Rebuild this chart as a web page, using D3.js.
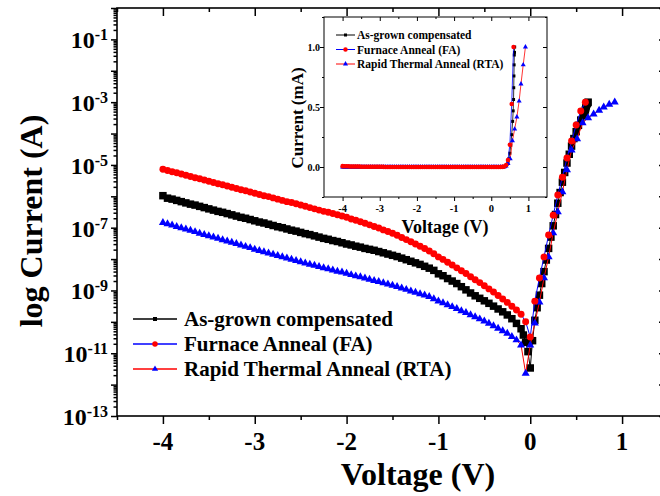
<!DOCTYPE html>
<meta charset="utf-8">
<script src="https://cdn.jsdelivr.net/npm/d3@7/dist/d3.min.js"></script>
<style>
body { margin: 0; background: #fff; }
text { font-family: "Liberation Serif", "Times New Roman", serif; font-weight: bold; fill: #000; }
.axis path { display: none; }
.axis line { stroke: #000; stroke-width: 1.5px; }
.inset .axis line { stroke-width: 1px; }
</style>
<body>
<script>

// reverse sweep voltages shared by all three samples (V)
var vReverse = [
  -4.00,-3.95,-3.90,-3.85,-3.80,-3.75,-3.70,-3.65,-3.60,-3.55,
  -3.50,-3.45,-3.40,-3.35,-3.30,-3.25,-3.20,-3.15,-3.10,-3.05,
  -3.00,-2.95,-2.90,-2.85,-2.80,-2.75,-2.70,-2.65,-2.60,-2.55,
  -2.50,-2.45,-2.40,-2.35,-2.30,-2.25,-2.20,-2.15,-2.10,-2.05,
  -2.00,-1.95,-1.90,-1.85,-1.80,-1.75,-1.70,-1.65,-1.60,-1.55,
  -1.50,-1.45,-1.40,-1.35,-1.30,-1.25,-1.20,-1.15,-1.10,-1.05,
  -1.00,-0.95,-0.90,-0.85,-0.80,-0.75,-0.70,-0.65,-0.60,-0.55,
  -0.50,-0.45,-0.40,-0.35,-0.30,-0.25,-0.20,-0.15,-0.10
];

// rest of each sweep (V)
var blackTailV = [-0.075,-0.05,-0.025,0,0.025,0.05,0.075,0.10,0.125,0.15,0.175,0.20,0.225,0.25,
  0.275,0.30,0.325,0.35,0.375,0.40,0.425,0.45,0.475,0.50,0.525,0.55,0.575,0.59,0.60,0.605,
  0.61,0.615,0.62,0.625,0.63];
var faTailV = [-0.05,0,0.05,0.10,0.15,0.20,0.25,0.30,0.35,0.40,0.45,0.50,0.55,0.60];
var rtaTailV = [-0.05,0,0.05,0.10,0.15,0.20,0.25,0.30,0.35,0.40,0.45,0.51,0.57,0.63,0.69,0.75,0.80,0.86,0.92];

// log10 of current (A)
var blackLogI = [
  -5.98,-6.06,-6.09,-6.13,-6.17,-6.21,-6.25,-6.28,-6.32,-6.36,
  -6.40,-6.44,-6.48,-6.51,-6.55,-6.59,-6.63,-6.67,-6.70,-6.74,
  -6.78,-6.82,-6.85,-6.89,-6.93,-6.97,-7.00,-7.04,-7.08,-7.11,
  -7.15,-7.19,-7.22,-7.26,-7.30,-7.34,-7.37,-7.41,-7.44,-7.48,
  -7.52,-7.55,-7.59,-7.62,-7.66,-7.69,-7.72,-7.76,-7.80,-7.84,
  -7.88,-7.92,-7.97,-8.02,-8.07,-8.12,-8.17,-8.23,-8.29,-8.36,
  -8.47,-8.53,-8.62,-8.70,-8.78,-8.88,-8.98,-9.08,-9.17,-9.25,
  -9.33,-9.41,-9.50,-9.59,-9.68,-9.78,-9.90,-10.05,-10.22,
  -10.42,-10.65,-10.95,-11.47,-10.60,-9.95,-9.55,-9.15,-8.78,-8.40,-8.03,-7.66,-7.30,-6.94,
  -6.58,-6.22,-5.88,-5.55,-5.24,-4.94,-4.66,-4.40,-4.16,-3.94,-3.74,-3.57,-3.42,-3.33,-3.25,-3.18,
  -3.12,-3.07,-3.03,-3.02,-3.00
];
var faLogI = [
  -5.14,-5.18,-5.22,-5.25,-5.29,-5.33,-5.37,-5.41,-5.44,-5.48,
  -5.52,-5.56,-5.60,-5.63,-5.67,-5.71,-5.75,-5.79,-5.82,-5.86,
  -5.90,-5.94,-5.98,-6.01,-6.05,-6.09,-6.13,-6.17,-6.20,-6.24,
  -6.28,-6.32,-6.36,-6.40,-6.44,-6.48,-6.51,-6.55,-6.59,-6.63,
  -6.67,-6.72,-6.76,-6.81,-6.86,-6.91,-6.96,-7.01,-7.07,-7.12,
  -7.18,-7.24,-7.31,-7.38,-7.45,-7.52,-7.59,-7.66,-7.74,-7.83,
  -7.93,-8.01,-8.10,-8.19,-8.28,-8.37,-8.46,-8.56,-8.66,-8.75,
  -8.85,-8.95,-9.05,-9.16,-9.27,-9.38,-9.50,-9.62,-9.76,
  -10.00,-10.48,-9.34,-8.60,-7.93,-7.23,-6.60,-5.96,-5.39,-4.78,-4.24,-3.73,-3.28,-3.00
];
var rtaLogI = [
  -6.84,-6.88,-6.92,-6.97,-7.01,-7.05,-7.09,-7.13,-7.18,-7.22,
  -7.26,-7.30,-7.34,-7.39,-7.43,-7.47,-7.51,-7.56,-7.60,-7.64,
  -7.69,-7.73,-7.77,-7.81,-7.85,-7.89,-7.93,-7.97,-8.01,-8.05,
  -8.09,-8.13,-8.17,-8.20,-8.24,-8.28,-8.31,-8.35,-8.39,-8.42,
  -8.46,-8.50,-8.54,-8.57,-8.61,-8.65,-8.69,-8.72,-8.76,-8.80,
  -8.84,-8.88,-8.93,-8.97,-9.02,-9.06,-9.11,-9.15,-9.20,-9.27,
  -9.34,-9.40,-9.46,-9.52,-9.58,-9.65,-9.71,-9.78,-9.84,-9.91,
  -9.98,-10.05,-10.13,-10.21,-10.29,-10.37,-10.47,-10.58,-10.74,
  -11.64,-10.74,-10.04,-9.37,-8.60,-7.93,-7.17,-6.50,-5.86,-5.16,-4.53,-4.17,-3.66,-3.50,
  -3.38,-3.26,-3.16,-3.07,-3.00
];

var seriesNames = ["As-grown compensated", "Furnace Anneal (FA)", "Rapid Thermal Anneal (RTA)"];
var xTicks = [-4, -3, -2, -1, 0, 1];
var xMinorTicks = [-4.5, -3.5, -2.5, -1.5, -0.5, 0.5, 1.5];
var yLabelExps = [-1, -3, -5, -7, -9, -11, -13];
var insetXTicks = [-4, -3, -2, -1, 0, 1];
var insetYTicks = [0.0, 0.5, 1.0];
var insetYMinor = [-0.25, 0.25, 0.75, 1.25];

function zip(vs, ls) {
  return vs.map(function(v, i) { return {v: v, l: ls[i]}; });
}

var series = [
  {name: seriesNames[0], pts: zip(vReverse.concat(blackTailV), blackLogI), line: "#000", mark: "#000", sym: d3.symbolSquare, size: 56, isize: 9, lsize: 16},
  {name: seriesNames[2], pts: zip(vReverse.concat(rtaTailV), rtaLogI), line: "#ff0000", mark: "#0000ff", sym: d3.symbolTriangle, size: 28, isize: 11, lsize: 17},
  {name: seriesNames[1], pts: zip(vReverse.concat(faTailV), faLogI), line: "#0000ff", mark: "#ff0000", sym: d3.symbolCircle, size: 38, isize: 16, lsize: 24}
];
var legendOrder = [series[0], series[2], series[1]];

var width = 660, height = 496;
var svg = d3.select("body").append("svg")
    .attr("width", width)
    .attr("height", height);

var x = d3.scaleLinear().domain([-4.5, 1.5]).range([117, 668]);
var y = d3.scaleLinear().domain([-13, 0]).range([416, 8]);

// decade ticks and 2..9 minor ticks for the log axis
var decades = d3.range(-13, 1);
var minorLog = [];
decades.forEach(function(n) {
  if (n >= 0) return;
  for (var k = 2; k <= 9; k++) minorLog.push(n + Math.log10(k));
});

function axisG(axis, tx, ty) {
  return svg.append("g").attr("class", "axis")
      .attr("transform", "translate(" + tx + "," + ty + ")")
      .call(axis);
}

axisG(d3.axisBottom(x).tickValues(xTicks).tickSize(8).tickFormat(""), 0, 416);
axisG(d3.axisBottom(x).tickValues(xMinorTicks).tickSize(4).tickFormat(""), 0, 416);
axisG(d3.axisTop(x).tickValues(xTicks).tickSize(-8).tickFormat(""), 0, 8);
axisG(d3.axisTop(x).tickValues(xMinorTicks).tickSize(-4).tickFormat(""), 0, 8);
axisG(d3.axisLeft(y).tickValues(decades).tickSize(6).tickFormat(""), 117, 0);
axisG(d3.axisLeft(y).tickValues(minorLog).tickSize(3.5).tickFormat(""), 117, 0);
axisG(d3.axisRight(y).tickValues(decades).tickSize(-9).tickFormat(""), 668, 0);

svg.append("rect")
    .attr("x", 117).attr("y", 8)
    .attr("width", 668 - 117).attr("height", 416 - 8)
    .attr("fill", "none").attr("stroke", "#000").attr("stroke-width", 1.6);

// tick labels
xTicks.forEach(function(t) {
  svg.append("text")
      .attr("x", x(t)).attr("y", 450)
      .attr("text-anchor", "middle")
      .style("font-size", "25px")
      .text(t);
});
yLabelExps.forEach(function(e) {
  var t = svg.append("text")
      .attr("x", 108).attr("y", y(e) + 9)
      .attr("text-anchor", "end")
      .style("font-size", "24px");
  t.append("tspan").text("10");
  t.append("tspan").attr("dy", -8).style("font-size", "16px").text(e);
});

svg.append("text")
    .attr("x", 418).attr("y", 485)
    .attr("text-anchor", "middle")
    .style("font-size", "32px")
    .text("Voltage (V)");
svg.append("text")
    .attr("transform", "translate(42,221) rotate(-90)")
    .attr("text-anchor", "middle")
    .style("font-size", "32px")
    .text("log Current (A)");

// data
var line = d3.line().x(function(d) { return x(d.v); }).y(function(d) { return y(d.l); });
series.forEach(function(s) {
  var g = svg.append("g");
  g.append("path").datum(s.pts)
      .attr("d", line)
      .attr("fill", "none")
      .attr("stroke", s.line)
      .attr("stroke-width", 1);
  g.selectAll("path.m").data(s.pts).enter().append("path")
      .attr("class", "m")
      .attr("transform", function(d) { return "translate(" + x(d.v) + "," + y(d.l) + ")"; })
      .attr("d", d3.symbol().type(s.sym).size(s.size))
      .attr("fill", s.mark);
});

// main legend
legendOrder.forEach(function(s, i) {
  var ly = 319 + i * 25;
  svg.append("line").attr("x1", 133).attr("x2", 177).attr("y1", ly).attr("y2", ly)
      .attr("stroke", s.line).attr("stroke-width", 1.3);
  svg.append("path")
      .attr("transform", "translate(155," + ly + ")")
      .attr("d", d3.symbol().type(s.sym).size(s.lsize))
      .attr("fill", s.mark);
  svg.append("text")
      .attr("x", 184).attr("y", ly + 7)
      .style("font-size", "21px")
      .text(s.name);
});

// inset
var inset = svg.append("g").attr("class", "inset");
var xi = d3.scaleLinear().domain([-4.5, 1.5]).range([324, 547]);
var yi = d3.scaleLinear().domain([-0.25, 1.25]).range([197, 17]);

inset.append("rect")
    .attr("x", 324).attr("y", 17)
    .attr("width", 547 - 324).attr("height", 197 - 17)
    .attr("fill", "#fff").attr("stroke", "#000").attr("stroke-width", 1);

function insetAxis(axis, tx, ty) {
  inset.append("g").attr("class", "axis")
      .attr("transform", "translate(" + tx + "," + ty + ")")
      .call(axis);
}
var insetXMinor = xMinorTicks.slice(1, 6);
insetAxis(d3.axisBottom(xi).tickValues(insetXTicks).tickSize(4).tickFormat(""), 0, 197);
insetAxis(d3.axisBottom(xi).tickValues(insetXMinor).tickSize(2).tickFormat(""), 0, 197);
insetAxis(d3.axisTop(xi).tickValues(insetXTicks).tickSize(-4).tickFormat(""), 0, 17);
insetAxis(d3.axisTop(xi).tickValues(insetXMinor).tickSize(-2).tickFormat(""), 0, 17);
insetAxis(d3.axisLeft(yi).tickValues(insetYTicks).tickSize(4).tickFormat(""), 324, 0);
insetAxis(d3.axisLeft(yi).tickValues(insetYMinor).tickSize(2).tickFormat(""), 324, 0);
insetAxis(d3.axisRight(yi).tickValues(insetYTicks).tickSize(-4).tickFormat(""), 547, 0);
insetAxis(d3.axisRight(yi).tickValues(insetYMinor).tickSize(-2).tickFormat(""), 547, 0);

insetXTicks.forEach(function(t) {
  inset.append("text")
      .attr("x", xi(t)).attr("y", 212)
      .attr("text-anchor", "middle")
      .style("font-size", "10.5px")
      .text(t);
});
insetYTicks.forEach(function(t) {
  inset.append("text")
      .attr("x", 320).attr("y", yi(t) + 3.5)
      .attr("text-anchor", "end")
      .style("font-size", "10px")
      .text(d3.format(".1f")(t));
});
inset.append("text")
    .attr("x", 445).attr("y", 233)
    .attr("text-anchor", "middle")
    .style("font-size", "18px")
    .text("Voltage (V)");
inset.append("text")
    .attr("transform", "translate(303,118) rotate(-90)")
    .attr("text-anchor", "middle")
    .style("font-size", "17px")
    .text("Current (mA)");

// inset shows the same sweeps on a linear mA scale
var linei = d3.line()
    .x(function(d) { return xi(d.v); })
    .y(function(d) { return yi(Math.pow(10, d.l) * 1000); });
series.forEach(function(s) {
  var g = inset.append("g");
  g.append("path").datum(s.pts)
      .attr("d", linei)
      .attr("fill", "none")
      .attr("stroke", s.line)
      .attr("stroke-width", 0.8);
  g.selectAll("path.m").data(s.pts).enter().append("path")
      .attr("class", "m")
      .attr("transform", function(d) {
        return "translate(" + xi(d.v) + "," + yi(Math.pow(10, d.l) * 1000) + ")";
      })
      .attr("d", d3.symbol().type(s.sym).size(s.isize))
      .attr("fill", s.mark);
});

legendOrder.forEach(function(s, i) {
  var ly = 35 + i * 14.5;
  inset.append("line").attr("x1", 336).attr("x2", 355).attr("y1", ly).attr("y2", ly)
      .attr("stroke", s.line).attr("stroke-width", 1);
  inset.append("path")
      .attr("transform", "translate(345.5," + ly + ")")
      .attr("d", d3.symbol().type(s.sym).size(s.isize))
      .attr("fill", s.mark);
  inset.append("text")
      .attr("x", 357).attr("y", ly + 4)
      .style("font-size", "11.5px")
      .text(s.name);
});

</script>
</body>
